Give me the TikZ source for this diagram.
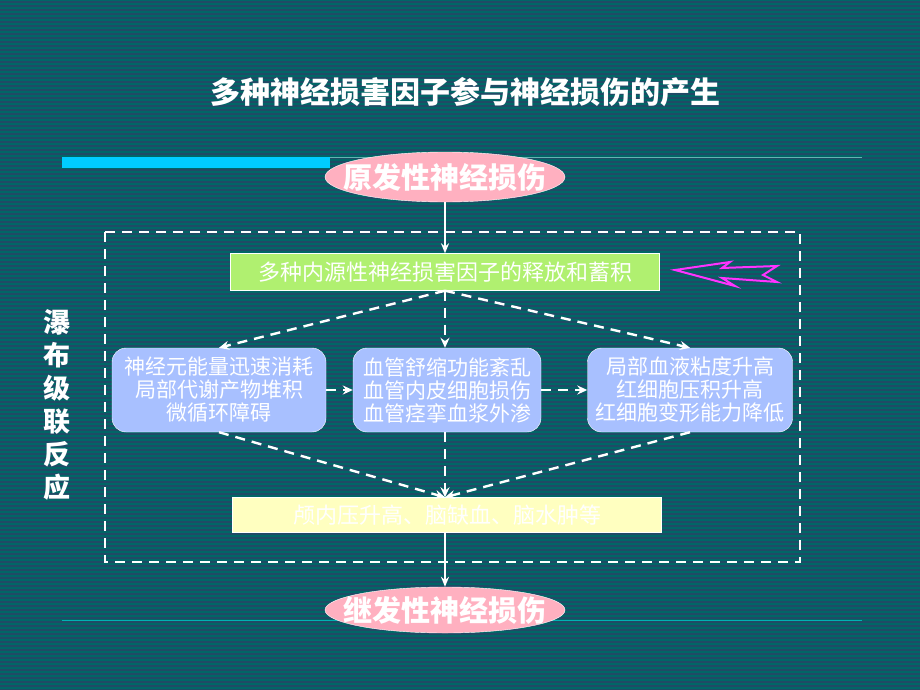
\documentclass[tikz,border=0pt]{standalone}
\usepackage{fontspec}
\setmainfont{Noto Sans CJK SC}
\usetikzlibrary{shapes.geometric,arrows.meta}
\definecolor{bgteal}{HTML}{006666}
\definecolor{bgline}{HTML}{204A66}
\definecolor{barcyan}{HTML}{00CCFF}
\definecolor{pinkfill}{HTML}{FFB0C0}
\definecolor{greenfill}{HTML}{B0F070}
\definecolor{bluefill}{HTML}{A8C0FF}
\definecolor{yellowfill}{HTML}{FFFFC0}
\definecolor{zigpink}{HTML}{FF33FF}
\tikzset{
  oval/.style={ellipse,draw=white,thin,fill=pinkfill,minimum width=240pt,minimum height=50pt,
    inner xsep=-32pt,inner ysep=0pt,text=white,font=\fontsize{29}{31}\selectfont\bfseries},
  flat/.style={draw=white,thin,minimum height=37pt,text=white,font=\fontsize{22}{24}\selectfont},
  soft/.style={draw=white,thin,rounded corners=14pt,fill=bluefill,minimum height=84pt,inner sep=1pt,
    text=white,align=center,font=\fontsize{21}{23}\selectfont},
  dasharrow/.style={white,line width=2.4pt,dash pattern=on 10pt off 7pt,-{Stealth[length=10pt,width=9pt]}},
  solidarrow/.style={white,line width=1.8pt,-{Stealth[length=10pt,width=8pt]}}
}
\begin{document}
\begin{tikzpicture}[x=1pt,y=-1pt]
\useasboundingbox (0,0) rectangle (920,690);
% striped background
\fill[bgteal] (0,0) rectangle (920,690);
\foreach \y in {1,5,...,689} {
  \fill[bgline] (0,\y) rectangle (920,\y+1.6);
}

\node[white,font=\fontsize{30}{32}\selectfont\bfseries] (title) at (465,92) {多种神经损害因子参与神经损伤的产生};

% bars
\draw[teal!60!white,thin] (62,157) -- (862,157);
\fill[barcyan] (62,157) rectangle (330,168);
\draw[teal!60!cyan,thick] (62,620) -- (862,620);

% dashed frame
\draw[white,line width=2.4pt,dash pattern=on 10pt off 7pt] (105,232) rectangle (800,562);

\node[white,font=\fontsize{27}{33}\selectfont\bfseries,align=center] (side) at (57,405)
  {瀑\\布\\级\\联\\反\\应};

\node[oval] (primary) at (445,177) {原发性神经损伤};
\node[flat,fill=greenfill,minimum width=429pt] (release) at (445,272) {多种内源性神经损害因子的释放和蓄积};

\node[soft,minimum width=214pt] (energy) at (219,390) {神经元能量迅速消耗\\局部代谢产物堆积\\微循环障碍};
\node[soft,minimum width=188pt] (vessel) at (447,390) {血管舒缩功能紊乱\\血管内皮细胞损伤\\血管痉挛血浆外渗};
\node[soft,minimum width=205pt] (blood) at (690,390) {局部血液粘度升高\\红细胞压积升高\\红细胞变形能力降低};

\node[flat,fill=yellowfill,minimum width=429pt,minimum height=35pt] (result) at (447,515) {颅内压升高、脑缺血、脑水肿等};
\node[oval,minimum height=46pt] (secondary) at (445,610) {继发性神经损伤};

% pink zigzag arrow
\draw[zigpink,line width=2pt,line join=miter]
  (675,270) -- (730,262) -- (722,268) -- (777,266) -- (763,275) -- (777,282)
  -- (722,278) -- (735,286) -- cycle;

% connectors
\draw[solidarrow] (primary) -- (release);
\draw[dasharrow] (release.south) -- (energy.north);
\draw[dasharrow] (release.south) -- (vessel.north -| release.south);
\draw[dasharrow] (release.south) -- (blood.north);
\draw[dasharrow] (energy) -- (vessel);
\draw[dasharrow] (vessel) -- (blood);
\draw[dasharrow] (energy.south) -- (result.north -| release.south);
\draw[dasharrow] (vessel.south -| release.south) -- (result.north -| release.south);
\draw[dasharrow] (blood.south) -- (result.north -| release.south);
\draw[solidarrow] (result.south -| release.south) -- (secondary);
\end{tikzpicture}
\end{document}
